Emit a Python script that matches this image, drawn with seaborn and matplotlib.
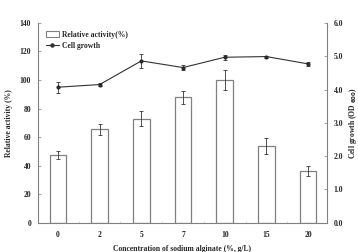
import numpy as np
import pandas as pd
import matplotlib
matplotlib.use("Agg")
import matplotlib.pyplot as plt
import seaborn as sns
from matplotlib.patches import Patch
from matplotlib.lines import Line2D

# data
concentrations = ["0", "2", "5", "7", "10", "15", "20"]
activity = [47.5, 65.5, 73, 88, 100, 54, 36]
activity_err = [2.5, 4, 5, 4.5, 7, 5.5, 3.5]
growth = [4.07, 4.15, 4.86, 4.66, 4.97, 4.99, 4.77]
growth_err = [0.17, 0.05, 0.2, 0.08, 0.07, 0.03, 0.07]

df = pd.DataFrame({"conc": concentrations, "activity": activity})

sns.set_style("ticks")
plt.rcParams["font.family"] = ["Liberation Serif", "DejaVu Serif"]
plt.rcParams["font.weight"] = "bold"

fig = plt.figure(figsize=(3.58, 2.52), dpi=100)
ax = fig.add_axes([0.106, 0.116, 0.807, 0.793])

grey = "#808080"
sns.barplot(data=df, x="conc", y="activity", ax=ax, color="white",
            edgecolor=grey, linewidth=0.9, width=0.4, errorbar=None)
xpos = np.arange(len(concentrations))
ax.errorbar(xpos, activity, yerr=activity_err, fmt="none",
            ecolor="#333333", elinewidth=0.6, capsize=1.5, capthick=0.6)

ax.set_ylim(0, 140)
ax.set_yticks(np.arange(0, 141, 20))
ax.set_xlim(-0.48, 6.45)
ax.set_xlabel("Concentration of sodium alginate (%, g/L)", fontsize=5.5,
              fontweight="bold", labelpad=4)
ax.set_ylabel("Relative activity (%)", fontsize=5.5, fontweight="bold",
              labelpad=5)

ax2 = ax.twinx()
ax2.errorbar(xpos, growth, yerr=growth_err, fmt="none",
             ecolor="#333333", elinewidth=0.6, capsize=1.5, capthick=0.6)
sns.lineplot(x=xpos, y=growth, ax=ax2, color="#333333", linewidth=0.8,
             marker="o", markersize=2.2, markeredgecolor="#222222")
ax2.set_ylim(0, 6)
ax2.set_yticks(np.arange(0, 6.1, 1))
ax2.set_yticklabels([f"{v:.1f}" for v in np.arange(0, 6.1, 1)])
ax2.set_ylabel("Cell growth (OD $_{600}$)", fontsize=5.5, fontweight="bold",
               labelpad=3)

for a in (ax, ax2):
    a.tick_params(axis="both", labelsize=5.5, direction="in", length=2,
                  width=0.5, color=grey, pad=5)
    for s in a.spines.values():
        s.set_color(grey)
        s.set_linewidth(0.8)
    a.spines["top"].set_visible(False)
    for lab in a.get_yticklabels() + a.get_xticklabels():
        lab.set_fontweight("bold")
ax.spines["right"].set_visible(False)
ax2.spines["left"].set_visible(False)
ax2.spines["bottom"].set_visible(False)
ax.tick_params(axis="x", length=0, pad=6)
ax.set_xticks(xpos[:-1] + 0.5, minor=True)
ax.tick_params(axis="x", which="minor", direction="in", length=1.5,
               width=0.4, color="#bbbbbb")

handles = [Patch(facecolor="white", edgecolor=grey, linewidth=0.8),
           Line2D([0], [0], color="#333333", linewidth=0.8, marker="o",
                  markersize=2.2)]
leg = ax.legend(handles, ["Relative activity(%)", "Cell growth"],
                loc="upper left", bbox_to_anchor=(0.0, 1.0), frameon=False,
                prop={"size": 5.5, "weight": "bold"}, handlelength=1.8,
                handletextpad=0.3, labelspacing=0.4, borderaxespad=0.6)

fig.savefig("out.png", dpi=100)
